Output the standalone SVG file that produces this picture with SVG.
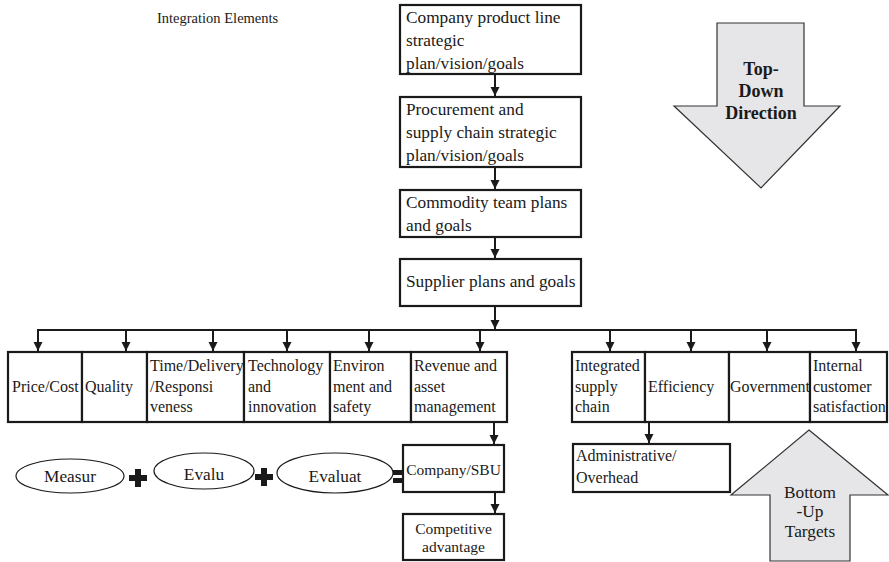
<svg xmlns="http://www.w3.org/2000/svg" width="889" height="562" viewBox="0 0 889 562">
<style>
  .box { fill: #fff; stroke: #1a1a1a; stroke-width: 2.2; }
  .t17 { font-family: "Liberation Serif", "Times New Roman", serif; font-size: 17.3px; fill: #1a1a1a; }
  .t16 { font-family: "Liberation Serif", "Times New Roman", serif; font-size: 16px; fill: #1a1a1a; }
  .t15 { font-family: "Liberation Serif", "Times New Roman", serif; font-size: 15.5px; fill: #1a1a1a; }
  .mid { text-anchor: middle; }
  .bold { font-weight: bold; font-size: 18px; }
  .conn { stroke: #1a1a1a; stroke-width: 2; fill: none; }
  .big { fill: #e6e6e8; stroke: #333; stroke-width: 1.2; }
  .ell { fill: #fff; stroke: #1a1a1a; stroke-width: 1.2; }
  .sym { fill: #1a1a1a; }
</style>
<defs>
  <marker id="ah" markerUnits="userSpaceOnUse" markerWidth="10" markerHeight="10" refX="9" refY="5" orient="auto">
    <path d="M0,0.5 L9,5 L0,9.5 z" fill="#1a1a1a"/>
  </marker>
</defs>

<text id="title" class="t16" x="157" y="23" style="font-size:14.5px">Integration Elements</text>

<g id="n-company-plan">
  <rect class="box" x="400" y="5" width="181" height="69"/>
  <text class="t17" x="406" y="23">Company product line</text>
  <text class="t17" x="406" y="46">strategic</text>
  <text class="t17" x="406" y="69">plan/vision/goals</text>
</g>
<g id="n-procurement">
  <rect class="box" x="400" y="97" width="181" height="70"/>
  <text class="t17" x="406" y="115">Procurement and</text>
  <text class="t17" x="406" y="138">supply chain strategic</text>
  <text class="t17" x="406" y="161">plan/vision/goals</text>
</g>
<g id="n-commodity">
  <rect class="box" x="400" y="190" width="181" height="47"/>
  <text class="t17" x="406" y="208">Commodity team plans</text>
  <text class="t17" x="406" y="231">and goals</text>
</g>
<g id="n-supplier">
  <rect class="box" x="400" y="259" width="181" height="47"/>
  <text class="t17" x="406" y="287">Supplier plans and goals</text>
</g>

<g id="n-price">
  <rect class="box" x="8" y="352" width="74" height="70"/>
  <text class="t16" x="12" y="392">Price/Cost</text>
</g>
<g id="n-quality">
  <rect class="box" x="82" y="352" width="65" height="70"/>
  <text class="t16" x="85" y="392">Quality</text>
</g>
<g id="n-time">
  <rect class="box" x="147" y="352" width="97" height="70"/>
  <text class="t16" x="150" y="371">Time/Delivery</text>
  <text class="t16" x="150" y="392">/Responsi</text>
  <text class="t16" x="150" y="412">veness</text>
</g>
<g id="n-tech">
  <rect class="box" x="244" y="352" width="86" height="70"/>
  <text class="t16" x="248" y="371">Technology</text>
  <text class="t16" x="248" y="392">and</text>
  <text class="t16" x="248" y="412">innovation</text>
</g>
<g id="n-env">
  <rect class="box" x="330" y="352" width="81" height="70"/>
  <text class="t16" x="333" y="371">Environ</text>
  <text class="t16" x="333" y="392">ment and</text>
  <text class="t16" x="333" y="412">safety</text>
</g>
<g id="n-revenue">
  <rect class="box" x="411" y="352" width="96" height="70"/>
  <text class="t16" x="414" y="371">Revenue and</text>
  <text class="t16" x="414" y="392">asset</text>
  <text class="t16" x="414" y="412">management</text>
</g>

<g id="n-integrated">
  <rect class="box" x="572" y="352" width="73" height="70"/>
  <text class="t16" x="575" y="371">Integrated</text>
  <text class="t16" x="575" y="392">supply</text>
  <text class="t16" x="575" y="412">chain</text>
</g>
<g id="n-efficiency">
  <rect class="box" x="645" y="352" width="84" height="70"/>
  <text class="t16" x="648" y="392">Efficiency</text>
</g>
<g id="n-government">
  <rect class="box" x="729" y="352" width="81" height="70"/>
  <text class="t16" x="730" y="392">Government</text>
</g>
<g id="n-internal">
  <rect class="box" x="810" y="352" width="77" height="70"/>
  <text class="t16" x="813" y="371">Internal</text>
  <text class="t16" x="813" y="392">customer</text>
  <text class="t16" x="813" y="412">satisfaction</text>
</g>

<g id="n-admin">
  <rect class="box" x="573" y="444" width="157" height="48"/>
  <text class="t16" x="576" y="461">Administrative/</text>
  <text class="t16" x="576" y="483">Overhead</text>
</g>

<g id="n-sbu">
  <rect class="box" x="403" y="445" width="101" height="47"/>
  <text class="t15 mid" x="453.5" y="475">Company/SBU</text>
</g>
<g id="n-competitive">
  <rect class="box" x="403" y="514" width="101" height="46"/>
  <text class="t15 mid" x="453.5" y="534">Competitive</text>
  <text class="t15 mid" x="453.5" y="552">advantage</text>
</g>

<g id="n-measur">
  <ellipse class="ell" cx="70" cy="476" rx="54" ry="17"/>
  <text class="t17 mid" x="70" y="482">Measur</text>
</g>
<g id="n-evalu">
  <ellipse class="ell" cx="204" cy="471" rx="50" ry="18"/>
  <text class="t17 mid" x="204" y="480">Evalu</text>
</g>
<g id="n-evaluat">
  <ellipse class="ell" cx="335" cy="473" rx="58" ry="20"/>
  <text class="t17 mid" x="335" y="482">Evaluat</text>
</g>

<g id="ops">
  <path class="sym" d="M135,469 h6 v6 h6 v6 h-6 v6 h-6 v-6 h-6 v-6 h6 z"/>
  <path class="sym" d="M261,468 h6 v6 h6 v6 h-6 v6 h-6 v-6 h-6 v-6 h6 z"/>
  <rect class="sym" x="393" y="470" width="10" height="5"/>
  <rect class="sym" x="393" y="478" width="10" height="5"/>
</g>

<g id="n-topdown">
  <path class="big" d="M717,23 H804 V106 H840 L761,188 L674,106 H717 Z"/>
  <text class="t16 bold mid" x="761" y="75">Top-</text>
  <text class="t16 bold mid" x="761" y="97">Down</text>
  <text class="t16 bold mid" x="761" y="119">Direction</text>
</g>
<g id="n-bottomup">
  <path class="big" d="M809,430 L888,495 H850 V561 H770 V495 H731 Z"/>
  <text class="t17 mid" x="810" y="498">Bottom</text>
  <text class="t17 mid" x="810" y="517">-Up</text>
  <text class="t17 mid" x="810" y="537">Targets</text>
</g>

<g id="connectors">
  <line class="conn" x1="495" y1="75" x2="495" y2="96" marker-end="url(#ah)"/>
  <line class="conn" x1="495" y1="168" x2="495" y2="189" marker-end="url(#ah)"/>
  <line class="conn" x1="495" y1="238" x2="495" y2="258" marker-end="url(#ah)"/>
  <line class="conn" x1="495" y1="307" x2="495" y2="329" marker-end="url(#ah)"/>
  <polyline class="conn" points="38,350 38,330 856,330 856,350"/>
  <line class="conn" x1="38" y1="330" x2="38" y2="351" marker-end="url(#ah)"/>
  <line class="conn" x1="126" y1="330" x2="126" y2="351" marker-end="url(#ah)"/>
  <line class="conn" x1="213" y1="330" x2="213" y2="351" marker-end="url(#ah)"/>
  <line class="conn" x1="287" y1="330" x2="287" y2="351" marker-end="url(#ah)"/>
  <line class="conn" x1="369" y1="330" x2="369" y2="351" marker-end="url(#ah)"/>
  <line class="conn" x1="480" y1="330" x2="480" y2="351" marker-end="url(#ah)"/>
  <line class="conn" x1="610" y1="330" x2="610" y2="351" marker-end="url(#ah)"/>
  <line class="conn" x1="691" y1="330" x2="691" y2="351" marker-end="url(#ah)"/>
  <line class="conn" x1="767" y1="330" x2="767" y2="351" marker-end="url(#ah)"/>
  <line class="conn" x1="856" y1="330" x2="856" y2="351" marker-end="url(#ah)"/>
  <line class="conn" x1="494" y1="423" x2="494" y2="444" marker-end="url(#ah)"/>
  <line class="conn" x1="495" y1="493" x2="495" y2="513" marker-end="url(#ah)"/>
  <line class="conn" x1="649" y1="423" x2="649" y2="443" marker-end="url(#ah)"/>
</g>
</svg>
